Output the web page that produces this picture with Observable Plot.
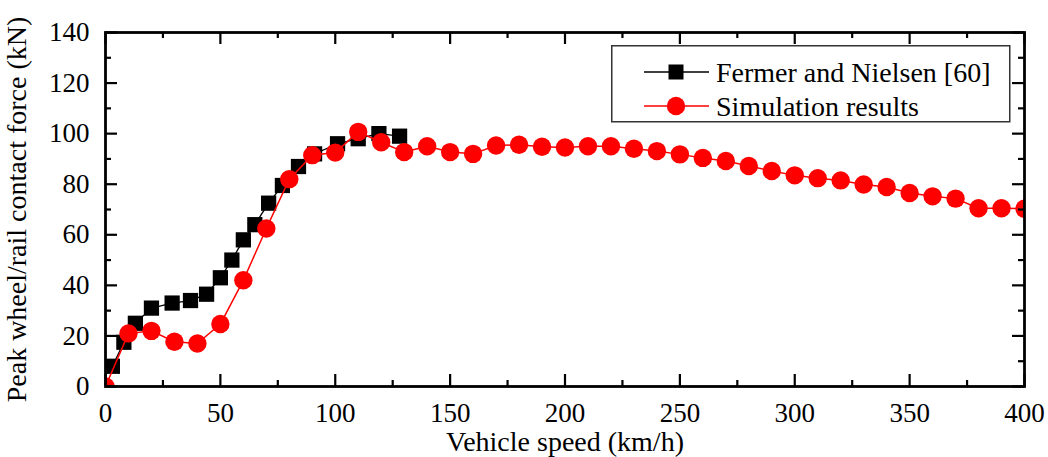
<!DOCTYPE html>
<html>
<head>
<meta charset="utf-8">
<script src="https://cdn.jsdelivr.net/npm/d3@7"></script>
<script src="https://cdn.jsdelivr.net/npm/@observablehq/plot@0.6"></script>
<style>
  html, body { margin: 0; padding: 0; background: #fff; }
  #wrap { position: relative; width: 1048px; height: 457px; }
  #wrap svg, #wrap svg text { font-family: "Liberation Serif", "Times New Roman", serif !important; }
  #legend { position: absolute; left: 611px; top: 45px; }
</style>
</head>
<body>
<div id="wrap"></div>
<script>
// ---- data ----
const fermerSpeed = [3, 8, 13, 20, 29, 37, 44, 50, 55, 60, 65, 71, 77, 84, 91, 101, 110, 119, 128];
const fermerForce = [8, 17.5, 25, 31, 33, 34, 36.5, 43, 50, 58, 64, 72.5, 79.5, 87, 92, 96, 98, 100, 99];
const simSpeed = [0, 10, 20, 30, 40, 50, 60, 70, 80, 90, 100, 110, 120, 130, 140, 150, 160, 170, 180, 190, 200,
  210, 220, 230, 240, 250, 260, 270, 280, 290, 300, 310, 320, 330, 340, 350, 360, 370, 380, 390, 400];
const simForce = [0, 21, 22, 17.7, 17, 24.7, 42, 62.5, 82, 91.5, 92.5, 100.7, 96.6, 92.7, 95, 92.7, 92, 95.3, 95.6, 94.8, 94.5,
  95, 95, 94, 93.1, 91.8, 90.4, 89.2, 87.2, 85.2, 83.5, 82.4, 81.5, 79.9, 78.9, 76.5, 75.2, 74.3, 70.5, 70.5, 70.3];
const xTicks = [0, 50, 100, 150, 200, 250, 300, 350, 400];
const xMinor = [25, 75, 125, 175, 225, 275, 325, 375];
const yTicks = [0, 20, 40, 60, 80, 100, 120, 140];
const yMinor = [10, 30, 50, 70, 90, 110, 130];
const seriesNames = ["Fermer and Nielsen [60]", "Simulation results"];
const seriesColors = ["#000000", "#ff0000"];
const xLabel = "Vehicle speed (km/h)";
const yLabel = "Peak wheel/rail contact force (kN)";

const fermer = fermerSpeed.map((s, i) => ({speed: s, force: fermerForce[i]}));
const sim = simSpeed.map((s, i) => ({speed: s, force: simForce[i]}));

const W = 1048, H = 457;
const mL = 105, mR = 24, mT = 32, mB = 71;
const iw = W - mL - mR, ih = H - mT - mB;
const major = 12, minor = 6;
const font = "Liberation Serif, Times New Roman, serif";

const chart = Plot.plot({
  width: W, height: H,
  marginLeft: mL, marginRight: mR, marginTop: mT, marginBottom: mB,
  style: {fontFamily: font, fontSize: "28px", background: "#fff", color: "#000"},
  x: {domain: [0, 400]},
  y: {domain: [0, 140]},
  marks: [
    Plot.line(fermer, {x: "speed", y: "force", stroke: seriesColors[0], strokeWidth: 1.3, clip: true}),
    Plot.dot(fermer, {x: "speed", y: "force", symbol: "square", r: 8.6, fill: seriesColors[0], stroke: "none", clip: true}),
    Plot.line(sim, {x: "speed", y: "force", stroke: seriesColors[1], strokeWidth: 1.5, clip: true}),
    Plot.dot(sim, {x: "speed", y: "force", r: 9.2, fill: seriesColors[1], stroke: "none", clip: true}),
    // inward ticks on four sides
    Plot.tickX(xTicks, {x: d => d, insetTop: ih - major, stroke: "#000", strokeWidth: 2.2}),
    Plot.tickX(xTicks, {x: d => d, insetBottom: ih - major, stroke: "#000", strokeWidth: 2.2}),
    Plot.tickX(xMinor, {x: d => d, insetTop: ih - minor, stroke: "#000", strokeWidth: 2.2}),
    Plot.tickX(xMinor, {x: d => d, insetBottom: ih - minor, stroke: "#000", strokeWidth: 2.2}),
    Plot.tickY(yTicks, {y: d => d, insetRight: iw - major, stroke: "#000", strokeWidth: 2.2}),
    Plot.tickY(yTicks, {y: d => d, insetLeft: iw - major, stroke: "#000", strokeWidth: 2.2}),
    Plot.tickY(yMinor, {y: d => d, insetRight: iw - minor, stroke: "#000", strokeWidth: 2.2}),
    Plot.tickY(yMinor, {y: d => d, insetLeft: iw - minor, stroke: "#000", strokeWidth: 2.2}),
    Plot.frame({stroke: "#000", strokeWidth: 2.8}),
    Plot.axisX({ticks: xTicks, tickSize: 0, tickPadding: 16, fontSize: 27, tickFormat: d => String(d), label: null}),
    Plot.axisX({ticks: [], tickSize: 0, fontSize: 28,
      label: xLabel, labelAnchor: "center", labelArrow: "none", labelOffset: 64}),
    Plot.axisY({ticks: yTicks, tickSize: 0, tickPadding: 16, fontSize: 27, tickFormat: d => String(d), label: null}),
    Plot.axisY({ticks: [], tickSize: 0, fontSize: 28,
      label: yLabel, labelAnchor: "center", labelArrow: "none", labelOffset: 99})
  ]
});
document.getElementById("wrap").appendChild(chart);

// ---- legend ----
const lg = d3.select("#wrap").append("svg").attr("id", "legend")
  .attr("width", 402).attr("height", 80);
lg.append("rect").attr("x", 0.75).attr("y", 0.75).attr("width", 398).attr("height", 76)
  .attr("fill", "#fff").attr("stroke", "#333").attr("stroke-width", 1.5);
seriesNames.forEach((name, i) => {
  const cy = 27 + i * 34;
  const g = lg.append("g");
  g.append("line").attr("x1", 33).attr("x2", 98).attr("y1", cy).attr("y2", cy)
    .attr("stroke", seriesColors[i]).attr("stroke-width", 1.3);
  if (i === 0) {
    g.append("rect").attr("x", 65 - 7.5).attr("y", cy - 7.5).attr("width", 15).attr("height", 15).attr("fill", seriesColors[i]);
  } else {
    g.append("circle").attr("cx", 65).attr("cy", cy).attr("r", 9.2).attr("fill", seriesColors[i]);
  }
  g.append("text").attr("x", 105).attr("y", cy).attr("dy", "0.35em")
    .attr("font-size", 28).text(name);
});
</script>
</body>
</html>
